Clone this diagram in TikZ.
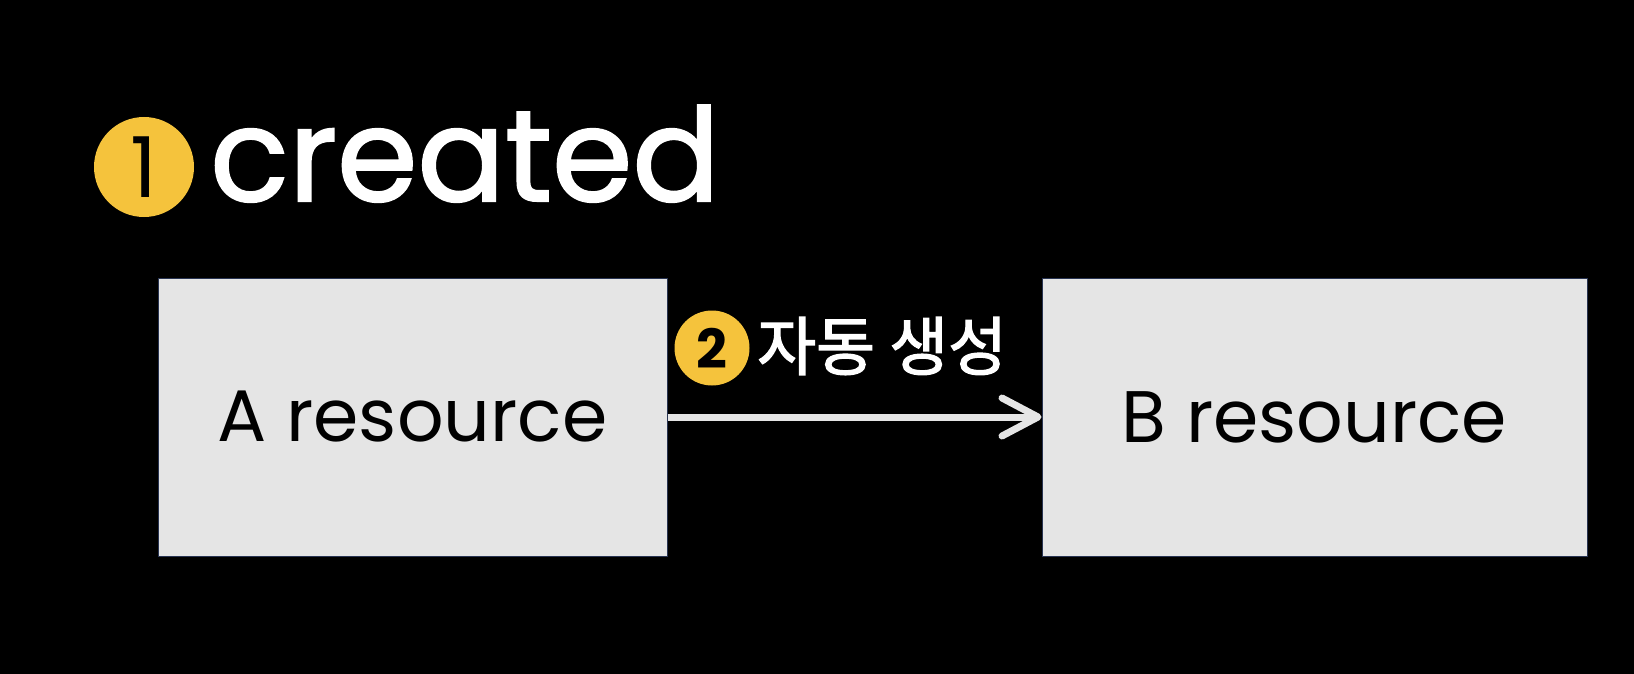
\documentclass[tikz,border=0pt]{standalone}
\usepackage{fontspec}
\setmainfont{Poppins}
\newfontfamily\titlefont{Poppins}[FakeBold=1.6]
\newfontfamily\kofont{Noto Sans CJK KR}[FakeBold=2]
\usetikzlibrary{arrows.meta}
\definecolor{badgeyellow}{RGB}{245,195,60}
\definecolor{boxgray}{RGB}{229,229,229}
\definecolor{boxedge}{RGB}{40,52,82}
\begin{document}
\begin{tikzpicture}[x=1pt,y=-1pt,
  badge/.style={circle,fill=badgeyellow,text=black,inner sep=0pt},
  resbox/.style={draw=boxedge,line width=1pt,fill=boxgray,inner sep=0pt,
    minimum height=278pt,font=\fontsize{73}{80}\selectfont}]
\useasboundingbox[fill=black] (0,0) rectangle (1634,674);

\node[badge,minimum size=100pt,font=\fontsize{84}{90}\selectfont] (badgeone) at (144,167) {1};
\node[anchor=base west,inner sep=0pt,text=white,font=\titlefont\fontsize{129.5}{140}\selectfont] (title) at (210,201) {created};

\node[resbox,minimum width=509pt] (boxa) at (412.5,417) {A resource};
\node[resbox,minimum width=545pt] (boxb) at (1314.5,417) {B resource};

\draw[line width=7pt,color=boxgray,-{Straight Barb[length=36pt,width=38pt,round]}] (boxa) -- (boxb);

\node[badge,minimum size=75pt,font=\fontsize{54}{60}\selectfont\bfseries] (badgetwo) at (712,348) {2};
\node[anchor=west,inner sep=0pt,text=white,font=\kofont\fontsize{64}{70}\selectfont] (autolabel) at (757,346) {자동 생성};
\end{tikzpicture}
\end{document}
